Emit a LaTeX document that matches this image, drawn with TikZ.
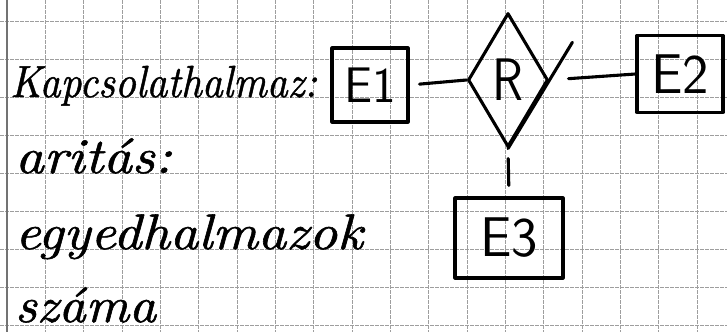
\documentclass[tikz,border=0pt]{standalone}
\usepackage{fontspec}
\usetikzlibrary{shapes.geometric,calc}
\newfontfamily\handfont{lmroman10-italic}[Extension=.otf,FakeBold=1.1]
\newcommand\hwtext[2]{\scalebox{#1}[1]{#2}}
\begin{document}
\begin{tikzpicture}[x=1pt,y=-1pt,
  ink/.style={line width=3.1pt,line cap=round,line join=round,black},
  gridline/.style={line width=0.8pt,black!38,dash pattern=on 4pt off 1pt},
  entity/.style={ink,draw,rectangle,inner sep=0pt,font=\sffamily\fontsize{56}{56}\selectfont},
  relation/.style={ink,draw,diamond,inner sep=0pt,minimum width=80pt,minimum height=134pt,font=\sffamily\fontsize{60}{60}\selectfont},
  note/.style={anchor=base west,inner sep=0pt,font=\handfont\fontsize{50}{50}\selectfont}]
\useasboundingbox (0,0) rectangle (727,332);
\fill[white] (0,0) rectangle (727,332);
% squared paper
\foreach \i in {1,...,18} \draw[gridline] ({7+38.33*\i},0) -- ({7+38.33*\i},332);
\foreach \j in {0,...,8} \draw[gridline] (0,{21+38*\j}) -- (727,{21+38*\j});
\draw[line width=1.6pt,black!55] (7,0) -- (7,332);
% notes
\node[note] (t1) at (10,97) {\fontsize{45}{45}\selectfont\hwtext{0.91}{Kapcsolathalmaz:}};
\node[note] (t2) at (15,173) {\hwtext{1.12}{aritás:}};
\node[note] (t3) at (15,249) {\hwtext{1.11}{egyedhalmazok}};
\node[note] (t4) at (15,322) {\hwtext{1.06}{száma}};
% ER diagram
\node[entity,minimum width=76pt,minimum height=74pt] (E1) at (370,85) {\fontsize{50}{50}\selectfont E1};
\node[relation] (R) at (508,80) {\hwtext{0.85}{R}};
\node[entity,minimum width=86pt,minimum height=77pt] (E2) at (680,74) {E2};
\node[entity,minimum width=108pt,minimum height=80pt] (E3) at (509,238) {E3};
\draw[ink] (R.south) -- ($(R.south)!1.55!(R.east)$);
\draw[ink,shorten <=10pt] (E1.east) -- (R.west);
\draw[ink,shorten <=19pt] (R.east) -- (E2.west);
\draw[ink,shorten <=10pt,shorten >=11pt] (R.south) -- (E3.north);
\end{tikzpicture}
\end{document}
